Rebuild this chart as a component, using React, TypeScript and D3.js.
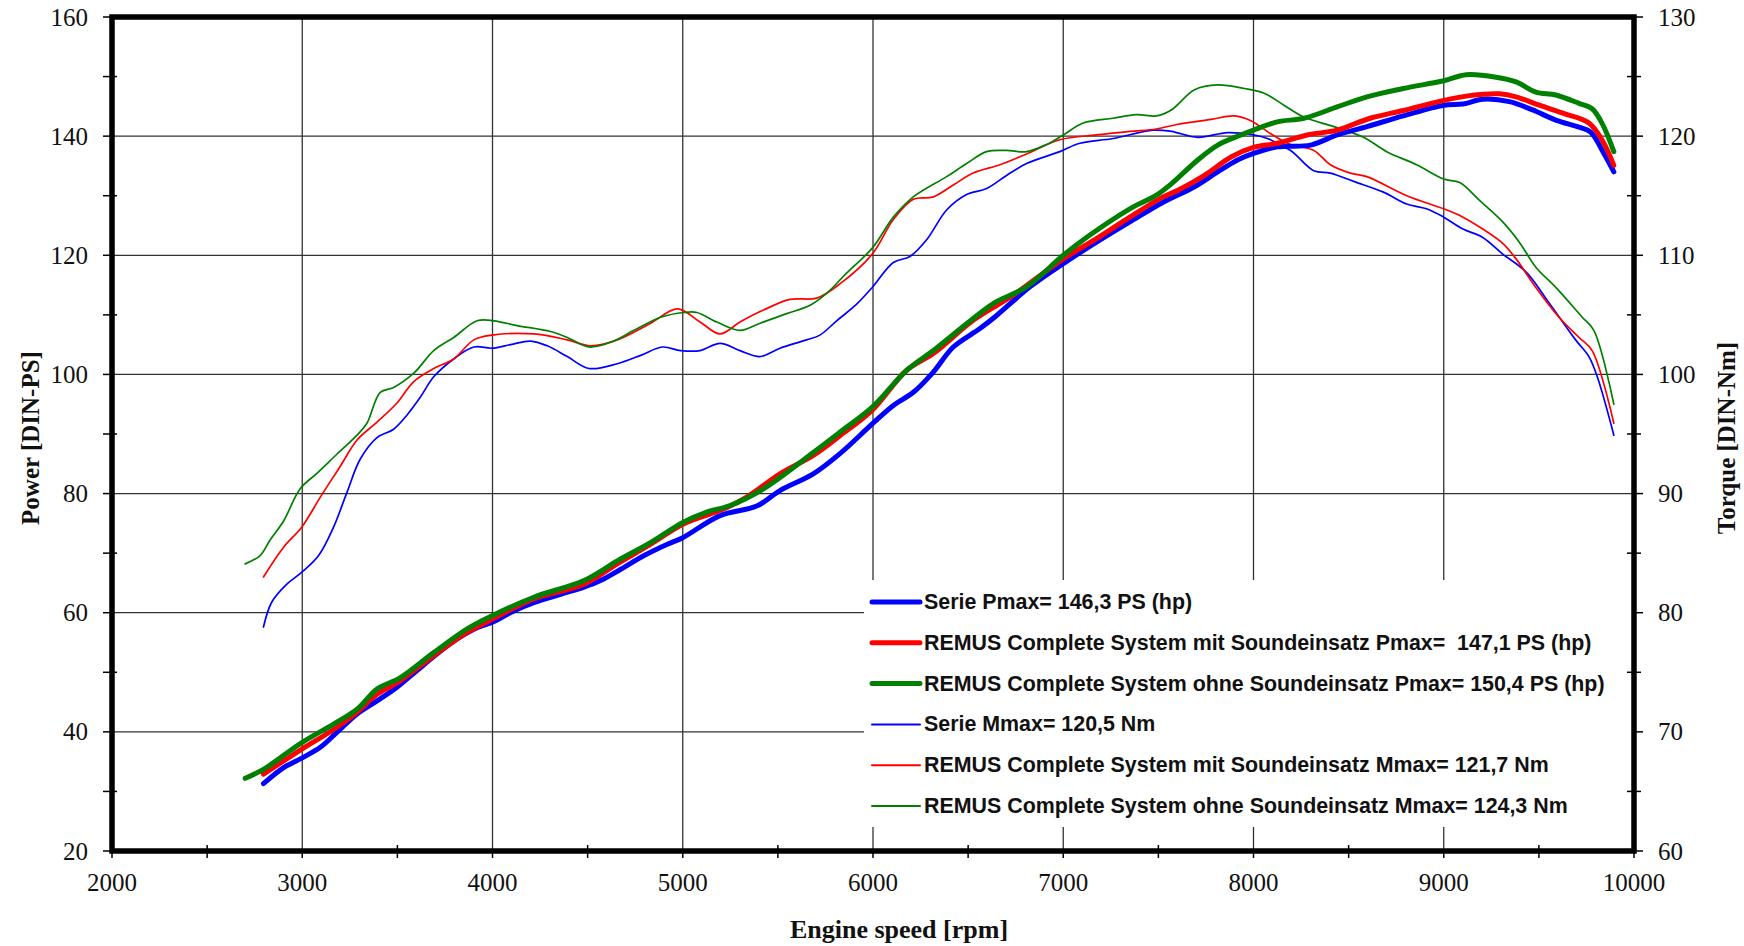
import React from 'react';
import * as d3 from 'd3';

// rpm / value pairs
const seriePower: [number, number][] = [
  [2796, 31.3], [2902, 34.0], [2998, 35.6], [3095, 37.4], [3182, 39.9], [3288, 43.0], [3393, 45.2],
  [3498, 47.5], [3603, 50.3], [3709, 53.1], [3814, 55.6], [3919, 57.5], [4000, 58.4], [4112, 60.3],
  [4217, 61.7], [4358, 63.1], [4481, 64.3], [4568, 65.4], [4674, 67.3], [4797, 69.6], [4919, 71.5],
  [5000, 72.6], [5196, 76.3], [5389, 77.9], [5511, 80.5], [5686, 83.3], [5826, 86.7], [5996, 91.7],
  [6107, 94.8], [6212, 97.0], [6317, 100.4], [6422, 104.6], [6562, 107.7], [6650, 109.9], [6825, 114.7],
  [7000, 118.6], [7175, 122.2], [7350, 125.6], [7525, 128.9], [7690, 131.5], [7812, 134.0], [7916, 136.0],
  [8000, 137.1], [8125, 138.2], [8300, 138.5], [8439, 140.2], [8596, 141.6], [8787, 143.4], [9000, 145.2],
  [9101, 145.4], [9205, 146.2], [9345, 145.8], [9467, 144.4], [9589, 142.7], [9711, 141.5], [9772, 140.7],
  [9833, 137.6], [9894, 134.0],
];

const mitPower: [number, number][] = [
  [2796, 32.9], [2998, 37.1], [3165, 40.4], [3288, 43.3], [3393, 46.3], [3516, 48.6], [3691, 52.8],
  [3867, 56.7], [3998, 58.9], [4217, 62.3], [4481, 64.8], [4656, 68.2], [4832, 71.5], [5003, 74.9],
  [5214, 77.4], [5336, 79.4], [5511, 83.3], [5686, 86.4], [5826, 89.7], [5996, 94.0], [6177, 100.7],
  [6317, 103.5], [6527, 109.1], [6737, 113.3], [7000, 119.4], [7175, 122.8], [7350, 126.4], [7525, 129.8],
  [7603, 130.9], [7742, 133.4], [7882, 136.5], [8000, 138.1], [8125, 138.8], [8282, 140.2], [8439, 141.0],
  [8613, 143.0], [8787, 144.3], [9000, 146.0], [9136, 146.8], [9293, 147.1], [9380, 146.6], [9502, 145.2],
  [9641, 143.7], [9763, 142.2], [9833, 139.3], [9894, 135.1],
];

const ohnePower: [number, number][] = [
  [2700, 32.2], [2796, 33.7], [2998, 38.2], [3165, 41.3], [3288, 43.8], [3393, 47.2], [3516, 49.1],
  [3691, 53.3], [3867, 57.3], [3998, 59.5], [4217, 62.6], [4481, 65.4], [4656, 68.7], [4832, 71.8],
  [5003, 75.2], [5126, 76.9], [5249, 78.0], [5424, 80.8], [5686, 86.9], [5826, 90.3], [5996, 94.5],
  [6177, 100.7], [6317, 104.0], [6492, 108.5], [6632, 111.9], [6807, 114.7], [7000, 120.0], [7140, 123.4],
  [7350, 127.8], [7490, 130.1], [7568, 132.0], [7707, 136.0], [7812, 138.5], [7934, 140.2], [8000, 141.0],
  [8125, 142.4], [8265, 143.0], [8439, 144.9], [8596, 146.6], [8787, 148.0], [9000, 149.3], [9118, 150.3],
  [9275, 149.9], [9380, 149.1], [9484, 147.4], [9589, 146.9], [9711, 145.5], [9780, 144.6], [9833, 142.1],
  [9894, 137.4],
];

const serieTorque: [number, number][] = [
  [2796, 78.8], [2840, 80.9], [2919, 82.4], [2998, 83.4], [3086, 84.8], [3165, 87.2], [3235, 90.1],
  [3305, 92.9], [3393, 94.7], [3480, 95.4], [3551, 96.6], [3621, 98.1], [3691, 99.8], [3796, 101.3],
  [3902, 102.3], [3998, 102.2], [4095, 102.5], [4200, 102.8], [4288, 102.4], [4393, 101.5], [4507, 100.5],
  [4656, 100.9], [4779, 101.6], [4893, 102.3], [4989, 102.0], [5091, 102.0], [5196, 102.6], [5301, 102.0],
  [5406, 101.5], [5511, 102.2], [5651, 102.9], [5721, 103.3], [5809, 104.5], [5914, 105.9], [5996, 107.3],
  [6107, 109.4], [6194, 109.9], [6282, 111.3], [6387, 113.8], [6492, 115.1], [6597, 115.6], [6702, 116.7],
  [6807, 117.7], [6982, 118.7], [7087, 119.4], [7262, 119.8], [7473, 120.5], [7568, 120.4], [7707, 119.9],
  [7864, 120.3], [8000, 120.1], [8073, 119.8], [8195, 118.8], [8317, 117.1], [8404, 116.9], [8526, 116.2],
  [8683, 115.3], [8805, 114.3], [8909, 113.9], [9000, 113.2], [9101, 112.2], [9205, 111.5], [9310, 110.1],
  [9432, 108.6], [9554, 106.0], [9693, 102.9], [9763, 101.5], [9807, 99.8], [9894, 94.9],
];

const mitTorque: [number, number][] = [
  [2796, 83.0], [2902, 85.5], [2998, 87.2], [3095, 89.7], [3200, 92.3], [3288, 94.5], [3393, 96.0],
  [3498, 97.6], [3586, 99.4], [3691, 100.5], [3796, 101.3], [3902, 102.9], [3998, 103.3], [4217, 103.4],
  [4393, 102.9], [4516, 102.4], [4656, 102.9], [4832, 104.3], [4972, 105.5], [5091, 104.4], [5196, 103.4],
  [5301, 104.4], [5424, 105.4], [5564, 106.3], [5704, 106.4], [5826, 107.6], [5996, 110.1], [6107, 113.0],
  [6212, 114.7], [6317, 114.9], [6422, 115.9], [6527, 116.9], [6667, 117.6], [6807, 118.5], [6982, 119.7],
  [7175, 120.1], [7350, 120.4], [7490, 120.6], [7603, 121.0], [7777, 121.4], [7899, 121.7], [7986, 121.3],
  [8091, 120.2], [8195, 119.3], [8317, 118.8], [8404, 117.6], [8509, 116.9], [8596, 116.6], [8805, 115.0],
  [9000, 113.9], [9101, 113.2], [9205, 112.2], [9310, 111.0], [9380, 109.7], [9484, 107.3], [9606, 104.8],
  [9711, 103.1], [9780, 102.0], [9894, 95.9],
];

const ohneTorque: [number, number][] = [
  [2700, 84.1], [2779, 84.8], [2831, 86.1], [2902, 87.7], [2989, 90.4], [3077, 91.7], [3182, 93.3],
  [3288, 94.9], [3340, 95.9], [3410, 98.5], [3480, 98.9], [3586, 100.1], [3691, 102.0], [3796, 103.1],
  [3919, 104.5], [4007, 104.5], [4130, 104.1], [4305, 103.6], [4393, 103.1], [4507, 102.3], [4621, 102.7],
  [4744, 103.7], [4884, 104.8], [5007, 105.2], [5074, 105.2], [5179, 104.4], [5301, 103.7], [5406, 104.3],
  [5546, 105.1], [5669, 105.8], [5756, 106.8], [5861, 108.5], [5996, 110.6], [6107, 113.2], [6212, 114.9],
  [6387, 116.6], [6492, 117.7], [6597, 118.7], [6702, 118.8], [6807, 118.7], [6912, 119.3], [7000, 120.1],
  [7105, 121.1], [7262, 121.5], [7385, 121.8], [7490, 121.7], [7568, 122.2], [7690, 123.9], [7812, 124.3],
  [7951, 124.0], [8056, 123.6], [8160, 122.6], [8265, 121.6], [8422, 120.8], [8578, 119.9], [8700, 118.7],
  [8857, 117.6], [9000, 116.4], [9084, 116.1], [9188, 114.6], [9310, 112.8], [9397, 111.1], [9484, 109.0],
  [9589, 107.3], [9728, 104.8], [9789, 103.7], [9894, 97.5],
];

const legendLabels = [
  'Serie Pmax= 146,3 PS (hp)',
  'REMUS Complete System mit Soundeinsatz Pmax=  147,1 PS (hp)',
  'REMUS Complete System ohne Soundeinsatz Pmax= 150,4 PS (hp)',
  'Serie Mmax= 120,5 Nm',
  'REMUS Complete System mit Soundeinsatz Mmax= 121,7 Nm',
  'REMUS Complete System ohne Soundeinsatz Mmax= 124,3 Nm',
];

const rpmTicks = [2000, 3000, 4000, 5000, 6000, 7000, 8000, 9000, 10000];
const powerTicks = [20, 40, 60, 80, 100, 120, 140, 160];
const torqueTicks = [60, 70, 80, 90, 100, 110, 120, 130];

const W = 1744;
const H = 946;
const left = 112, right = 1634, top = 17, bottom = 851;

const BLUE = '#0000ff';
const RED = '#ff0000';
const GREEN = '#008000';

const x = d3.scaleLinear().domain([2000, 10000]).range([left, right]);
const yP = d3.scaleLinear().domain([20, 160]).range([bottom, top]);
const yT = d3.scaleLinear().domain([60, 130]).range([bottom, top]);

const powerLine = d3.line<[number, number]>()
  .x(d => x(d[0]))
  .y(d => yP(d[1]))
  .curve(d3.curveCatmullRom.alpha(0.5));

const torqueLine = d3.line<[number, number]>()
  .x(d => x(d[0]))
  .y(d => yT(d[1]))
  .curve(d3.curveCatmullRom.alpha(0.5));

const curves = [
  { d: torqueLine(serieTorque), color: BLUE, w: 1.7 },
  { d: torqueLine(mitTorque), color: RED, w: 1.7 },
  { d: torqueLine(ohneTorque), color: GREEN, w: 1.7 },
  { d: powerLine(seriePower), color: BLUE, w: 5 },
  { d: powerLine(mitPower), color: RED, w: 5 },
  { d: powerLine(ohnePower), color: GREEN, w: 5 },
];

const legendColors = [BLUE, RED, GREEN, BLUE, RED, GREEN];
const legendWidths = [5, 5, 5, 2, 2, 2];

const serif = '"Liberation Serif", "Times New Roman", serif';
const sans = '"Liberation Sans", Arial, sans-serif';

export default function App() {
  const minorRpm = d3.range(2500, 10000, 1000);
  const minorPower = d3.range(30, 160, 20);
  const minorTorque = d3.range(65, 130, 10);
  const legendY = (i: number) => 602 + i * 40.8;

  return (
    <div style={{ position: 'absolute', left: 0, top: 0 }}>
      <svg width={W} height={H} style={{ display: 'block', background: '#fff' }}>
        {/* grid */}
        {rpmTicks.slice(1, -1).map(r => (
          <line key={'gx' + r} x1={x(r)} x2={x(r)} y1={top} y2={bottom} stroke="#333" strokeWidth={1.3} />
        ))}
        {powerTicks.slice(1, -1).map(p => (
          <line key={'gy' + p} x1={left} x2={right} y1={yP(p)} y2={yP(p)} stroke="#333" strokeWidth={1.3} />
        ))}

        {/* curves */}
        {curves.map((c, i) => (
          <path key={'c' + i} d={c.d || ''} fill="none" stroke={c.color} strokeWidth={c.w}
            strokeLinejoin="round" strokeLinecap="round" />
        ))}

        {/* legend */}
        <rect x={864} y={580} width={right - 864 - 2} height={247} fill="#fff" />
        {legendLabels.map((t, i) => (
          <g key={'lg' + i}>
            <line x1={872} x2={920} y1={legendY(i)} y2={legendY(i)} stroke={legendColors[i]}
              strokeWidth={legendWidths[i]} strokeLinecap="round" />
            <text x={924} y={legendY(i)} dominantBaseline="central" fontFamily={sans} fontWeight="bold"
              fontSize={21.4} fill="#111" style={{ whiteSpace: 'pre' }}>{t}</text>
          </g>
        ))}

        {/* ticks */}
        {powerTicks.map(p => (
          <line key={'tl' + p} x1={103} x2={left} y1={yP(p)} y2={yP(p)} stroke="#000" strokeWidth={1.5} />
        ))}
        {minorPower.map(p => (
          <line key={'tlm' + p} x1={103} x2={117} y1={yP(p)} y2={yP(p)} stroke="#000" strokeWidth={1.5} />
        ))}
        {torqueTicks.map(t => (
          <line key={'tr' + t} x1={right} x2={1643} y1={yT(t)} y2={yT(t)} stroke="#000" strokeWidth={1.5} />
        ))}
        {minorTorque.map(t => (
          <line key={'trm' + t} x1={1627} x2={1641} y1={yT(t)} y2={yT(t)} stroke="#000" strokeWidth={1.5} />
        ))}
        {rpmTicks.map(r => (
          <line key={'tb' + r} x1={x(r)} x2={x(r)} y1={bottom} y2={858} stroke="#000" strokeWidth={1.5} />
        ))}
        {minorRpm.map(r => (
          <line key={'tbm' + r} x1={x(r)} x2={x(r)} y1={845} y2={858} stroke="#000" strokeWidth={1.5} />
        ))}

        {/* frame */}
        <rect x={left} y={top} width={right - left} height={bottom - top} fill="none" stroke="#000" strokeWidth={5.5} />

        {/* tick labels */}
        {powerTicks.map(p => (
          <text key={'ll' + p} x={88} y={yP(p)} textAnchor="end" dominantBaseline="central"
            fontFamily={serif} fontSize={25} fill="#111">{p}</text>
        ))}
        {torqueTicks.map(t => (
          <text key={'rl' + t} x={1658} y={yT(t)} textAnchor="start" dominantBaseline="central"
            fontFamily={serif} fontSize={25} fill="#111">{t}</text>
        ))}
        {rpmTicks.map(r => (
          <text key={'bl' + r} x={x(r)} y={882} textAnchor="middle" dominantBaseline="central"
            fontFamily={serif} fontSize={25} fill="#111">{r}</text>
        ))}

        {/* axis titles */}
        <text transform="translate(30,438) rotate(-90)" textAnchor="middle" dominantBaseline="central"
          fontFamily={serif} fontWeight="bold" fontSize={25} fill="#111">Power [DIN-PS]</text>
        <text transform="translate(1726,438) rotate(-90)" textAnchor="middle" dominantBaseline="central"
          fontFamily={serif} fontWeight="bold" fontSize={25} fill="#111">Torque [DIN-Nm]</text>
        <text x={899} y={929} textAnchor="middle" dominantBaseline="central"
          fontFamily={serif} fontWeight="bold" fontSize={26} fill="#111">Engine speed [rpm]</text>
      </svg>
    </div>
  );
}
